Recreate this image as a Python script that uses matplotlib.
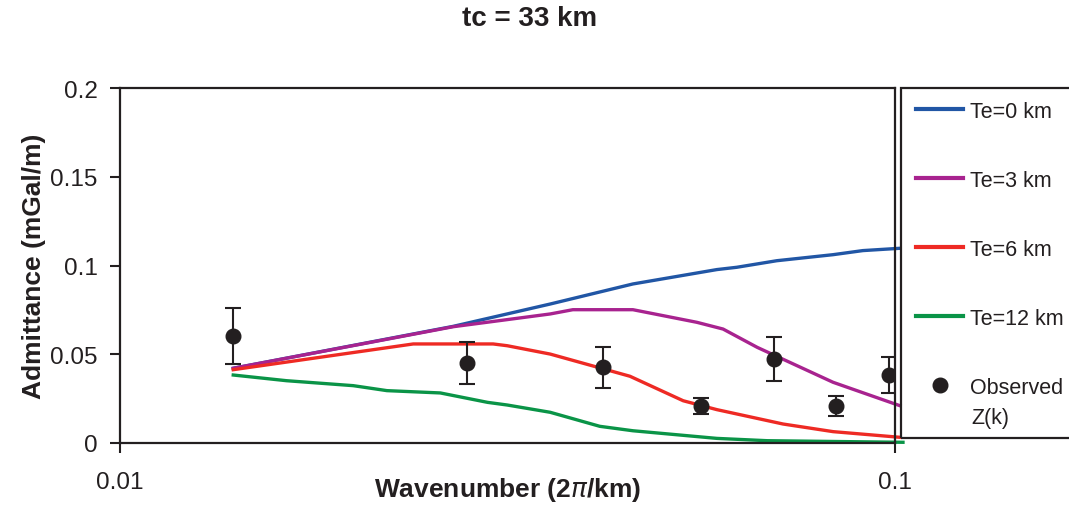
import numpy as np
import matplotlib
matplotlib.use("Agg")
import matplotlib.pyplot as plt
from matplotlib.patches import Rectangle
from matplotlib.lines import Line2D

plt.rcParams['font.family'] = ['Liberation Sans', 'DejaVu Sans']

# model curves (wavenumber, admittance)
k_te0 = [0.0140, 0.0269, 0.0359, 0.0459, 0.0589, 0.0625, 0.0704, 0.0832, 0.0909, 0.1015]
z_te0 = [0.0421, 0.0657, 0.0783, 0.0896, 0.0977, 0.0990, 0.1027, 0.1061, 0.1084, 0.1097]

k_te3 = [0.0140, 0.0269, 0.0359, 0.0384, 0.0459, 0.0555, 0.0600, 0.0664, 0.0832, 0.1015]
z_te3 = [0.0421, 0.0655, 0.0727, 0.0751, 0.0751, 0.0680, 0.0642, 0.0539, 0.0342, 0.0210]

k_te6 = [0.0140, 0.0239, 0.0303, 0.0316, 0.0359, 0.0455, 0.0533, 0.0589, 0.0717, 0.0832, 0.1015]
z_te6 = [0.0413, 0.0558, 0.0558, 0.0548, 0.0501, 0.0376, 0.0238, 0.0188, 0.0107, 0.0064, 0.0032]

k_te12 = [0.0140, 0.0164, 0.0200, 0.0221, 0.0259, 0.0298, 0.0316, 0.0359, 0.0416, 0.0459,
          0.0589, 0.0684, 0.1024]
z_te12 = [0.0383, 0.0351, 0.0323, 0.0295, 0.0282, 0.0229, 0.0214, 0.0173, 0.0094, 0.0069,
          0.0026, 0.0013, 0.0004]

# observed admittance with errors
k_obs = [0.0140, 0.0280, 0.0420, 0.0562, 0.0698, 0.0839, 0.0982]
z_obs = [0.0603, 0.0451, 0.0426, 0.0208, 0.0473, 0.0207, 0.0383]
z_err = [0.0160, 0.0120, 0.0115, 0.0046, 0.0125, 0.0056, 0.0102]

dark = '#231f20'
colors = ['#2156a5', '#a8238f', '#ee2a24', '#0a9447']
W, H = 1069, 506
fig = plt.figure(figsize=(W / 100, H / 100), dpi=100)
ax = fig.add_axes([120 / W, 1 - 444 / H, (895 - 120) / W, (444 - 89) / H])

ax.plot(k_te0, z_te0, color=colors[0], lw=2.4, clip_on=False)
ax.plot(k_te3, z_te3, color=colors[1], lw=2.4, clip_on=False)
ax.plot(k_te6, z_te6, color=colors[2], lw=2.4, clip_on=False)
ax.plot(k_te12, z_te12, color=colors[3], lw=2.4, clip_on=False)
ax.errorbar(k_obs, z_obs, yerr=z_err, fmt='o', color=dark, ms=10.5, capsize=5.5,
            elinewidth=1.5, capthick=1.5, zorder=5)

ax.set_xscale('log')
ax.set_xlim(0.01, 0.1)
ax.set_ylim(0, 0.2)
ax.set_xticks([0.01, 0.1])
ax.set_xticklabels(['0.01', '0.1'])
ax.xaxis.set_minor_locator(matplotlib.ticker.NullLocator())
ax.set_yticks([0, 0.05, 0.1, 0.15, 0.2])
ax.set_yticklabels(['0', '0.05', '0.1', '0.15', '0.2'])
ax.tick_params(axis='both', direction='out', length=7, width=1.5, color=dark,
               labelsize=17.5, labelcolor=dark)
ax.tick_params(axis='x', pad=13)
ax.tick_params(axis='y', pad=9)
for s in ax.spines.values():
    s.set_color(dark)
    s.set_linewidth(1.6)

fig.text(508 / W, 1 - 490 / H, 'Wavenumber (2$\\pi$/km)', ha='center', va='center',
         fontsize=19, fontweight='bold', color=dark)
ax.set_ylabel('Admittance (mGal/m)', fontsize=19, fontweight='bold', color=dark, labelpad=3)
fig.text(530 / W, 1 - 19 / H, 'tc = 33 km', ha='center', va='center', fontsize=20,
         fontweight='bold', color=dark)

# legend box runs off the right edge
fig.patches.append(Rectangle((901 / W, 1 - 439 / H), 0.2, (439 - 89) / H, transform=fig.transFigure,
                             fill=False, edgecolor=dark, lw=1.6))
handles = [Line2D([], [], color=c, lw=3) for c in colors]
handles.append(Line2D([], [], color=dark, marker='o', ls='none', ms=10.5))
labels = ['Te=0 km', 'Te=3 km', 'Te=6 km', 'Te=12 km', 'Observed']
leg = fig.legend(handles, labels, loc='upper left', bbox_to_anchor=(916 / W, 1 - 102 / H),
                 frameon=False, fontsize=15.5, handlelength=2.2, labelspacing=2.23,
                 handletextpad=0.33, borderaxespad=0, borderpad=0)
for t in leg.get_texts():
    t.set_color(dark)
fig.text(971 / W, 1 - 419 / H, 'Z(k)', ha='left', va='center', fontsize=15.5, color=dark)

fig.savefig('out.png', dpi=100)
